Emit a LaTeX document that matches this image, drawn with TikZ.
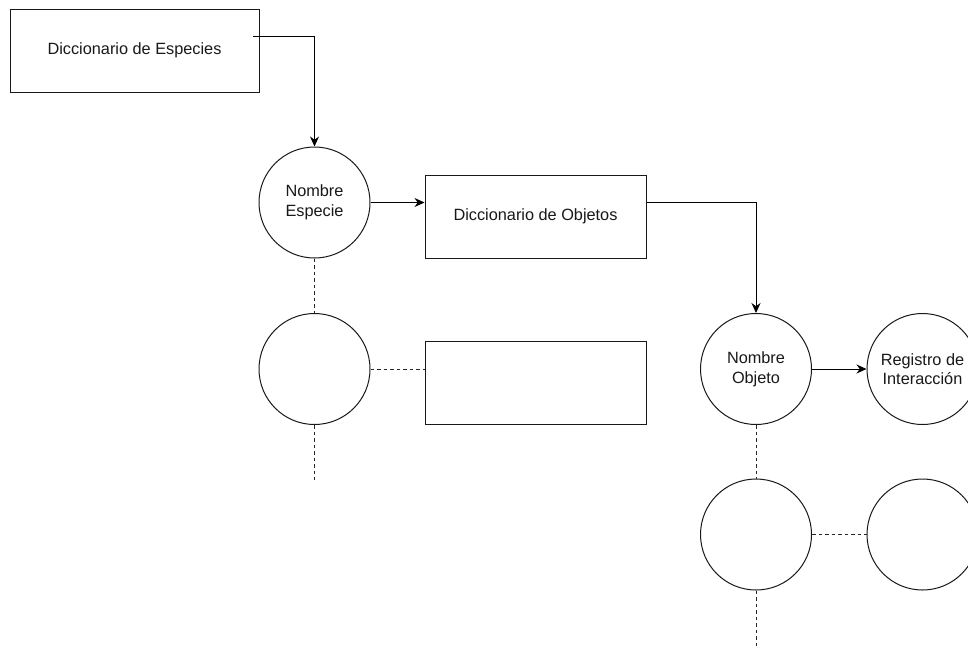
\documentclass[tikz,border=0pt]{standalone}
\usepackage{fontspec}
\setmainfont{Liberation Sans}
\usetikzlibrary{arrows.meta}
\begin{document}
\begin{tikzpicture}[x=1pt,y=-1pt,
  every node/.style={font=\fontsize{16.3}{19.6}\selectfont, text=black!90, align=center},
  boxnode/.style={draw=black!90, line width=1pt, rectangle, inner sep=0pt},
  circnode/.style={draw=black!90, line width=1pt, circle, inner sep=0pt, minimum size=111pt},
  arr/.style={draw=black, line width=1pt, -{Stealth[length=10pt,width=9pt]}},
  dashline/.style={draw=black!85, line width=1pt, dash pattern=on 3.5pt off 3pt}]
\useasboundingbox (0,0) rectangle (968,646);
\clip (0,0) rectangle (968,646);
\fill[white] (0,0) rectangle (968,646);
% boxes
\node[boxnode, minimum width=249pt, minimum height=83pt] (b1) at (134.5,50.5) {Diccionario de Especies};
\node[boxnode, minimum width=221pt, minimum height=83pt] (b2) at (535.5,216.5) {Diccionario de Objetos};
\node[boxnode, minimum width=221pt, minimum height=83pt] (b3) at (535.5,382.5) {};
% circles
\node[circnode] (c1) at (314.5,202.5) {Nombre\\Especie};
\node[circnode] (c2) at (314.5,369) {};
\node[circnode] (c3) at (756,369) {Nombre\\Objeto};
\node[circnode] (c4) at (922.5,369) {Registro de\\Interacción};
\node[circnode] (c5) at (756,534.5) {};
\node[circnode] (c6) at (922.5,534.5) {};
% free ends
\coordinate (s1) at (253,36.7);
\coordinate (e1) at (314.5,480);
\coordinate (e2) at (756,646);
% solid arrows
\draw[arr] (s1) -| (c1.north);
\draw[arr] (c1.east) -- (b2.west |- c1.east);
\draw[arr] (b2.east |- c1.east) -| (c3.north);
\draw[arr] (c3.east) -- (c4.west);
% dashed links
\draw[dashline] (c1.south) -- (c2.north);
\draw[dashline] (c2.east) -- (b3.west |- c2.east);
\draw[dashline] (c2.south) -- (e1);
\draw[dashline] (c3.south) -- (c5.north);
\draw[dashline] (c5.east) -- (c6.west);
\draw[dashline] (c5.south) -- (e2);
\end{tikzpicture}
\end{document}
